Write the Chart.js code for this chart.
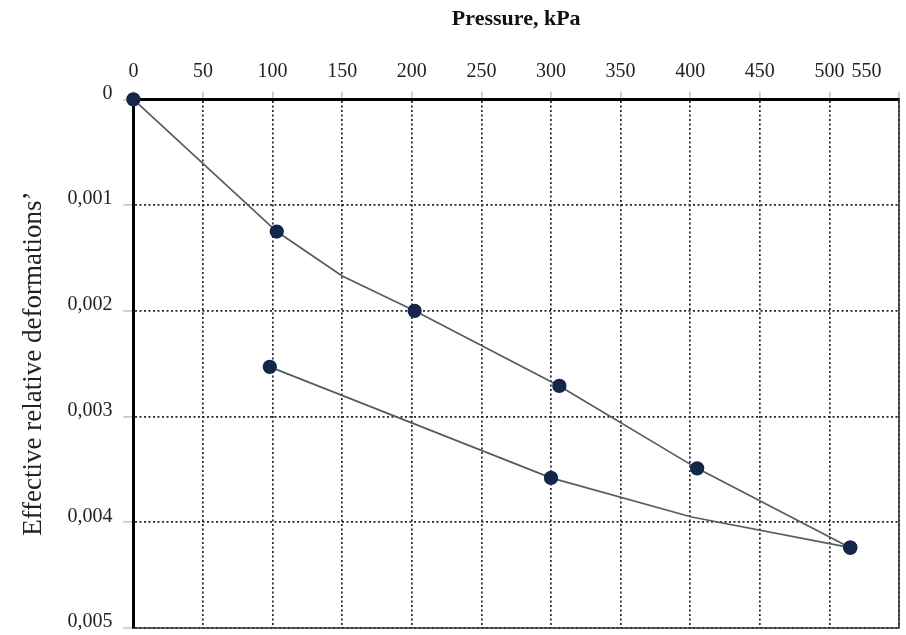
<!DOCTYPE html>
<html>
<head>
<meta charset="utf-8">
<script src="https://cdn.jsdelivr.net/npm/chart.js@4"></script>
<style>
  html, body { margin: 0; padding: 0; background: #ffffff; }
  #wrap { width: 906px; height: 635px; }
</style>
</head>
<body>
<div id="wrap"><canvas id="c" width="906" height="635"></canvas></div>
<script>
// ---- data ----
const xTitle = 'Pressure, kPa';
const yTitle = 'Effective relative deformations\u2019';

// loading branch (pressure kPa, effective relative deformation)
const loadPressure = [0, 103, 150, 202, 306, 405, 515];
const loadDeform   = [0, 0.00125, 0.00167, 0.0020, 0.00271, 0.00349, 0.00424];
const loadMeasured = [true, true, false, true, true, true, true];

// unloading branch
const unloadPressure = [98, 300, 401, 515];
const unloadDeform   = [0.00253, 0.00358, 0.00395, 0.00424];
const unloadMeasured = [true, true, false, true];

const xMin = 0, xMax = 550, xStep = 50;
const yMin = 0, yMax = 0.005, yStep = 0.001;

function toPoints(xs, ys) { return xs.map((x, i) => ({ x: x, y: ys[i] })); }

const serif = "'Liberation Serif', 'Times New Roman', serif";
const markerColor = '#14264a';
const lineColor = '#565b62';

const frame = {
  id: 'frame',
  beforeDatasetsDraw(chart) {
    const a = chart.chartArea, ctx = chart.ctx;
    ctx.save();
    ctx.strokeStyle = '#333';
    ctx.lineWidth = 1.6;
    ctx.beginPath();
    ctx.moveTo(a.right, a.top);
    ctx.lineTo(a.right, a.bottom);
    ctx.lineTo(a.left, a.bottom);
    ctx.stroke();
    ctx.restore();
  }
};

function noEdgePadding(scale) {
  scale.paddingTop = 0; scale.paddingBottom = 0;
  scale.paddingLeft = 0; scale.paddingRight = 0;
}

new Chart(document.getElementById('c'), {
  type: 'scatter',
  data: {
    datasets: [
      {
        label: 'loading',
        data: toPoints(loadPressure, loadDeform),
        showLine: true,
        clip: false,
        borderColor: lineColor,
        borderWidth: 1.7,
        backgroundColor: markerColor,
        pointBackgroundColor: markerColor,
        pointBorderColor: markerColor,
        pointRadius: c => loadMeasured[c.dataIndex] ? 6.3 : 0,
        pointHoverRadius: 0,
        order: 1
      },
      {
        label: 'unloading',
        data: toPoints(unloadPressure, unloadDeform),
        showLine: true,
        clip: false,
        borderColor: lineColor,
        borderWidth: 1.7,
        backgroundColor: markerColor,
        pointBackgroundColor: markerColor,
        pointBorderColor: markerColor,
        pointRadius: c => unloadMeasured[c.dataIndex] ? 6.3 : 0,
        pointHoverRadius: 0,
        order: 2
      }
    ]
  },
  options: {
    responsive: false,
    animation: false,
    events: [],
    layout: { autoPadding: false, padding: { top: 3, right: 7, bottom: 7, left: 4 } },
    plugins: {
      legend: { display: false },
      tooltip: { enabled: false }
    },
    scales: {
      x: {
        type: 'linear',
        position: 'top',
        min: xMin, max: xMax,
        afterFit: noEdgePadding,
        ticks: {
          stepSize: xStep,
          autoSkip: false,
          color: '#222',
          font: { family: serif, size: 20 },
          padding: 8,
          maxRotation: 0,
          callback: v => v === xMax ? String(v) + ' '.repeat(13) : String(v)
        },
        grid: {
          color: '#262626',
          lineWidth: 1.7,
          tickColor: '#c8c8c8',
          tickLength: 8
        },
        border: { display: true, color: '#000', width: 3, dash: [2, 2.5] },
        title: {
          display: true,
          text: xTitle,
          color: '#111',
          font: { family: serif, size: 22, weight: 'bold' },
          padding: { top: 3, bottom: 19 }
        }
      },
      y: {
        type: 'linear',
        position: 'left',
        reverse: true,
        min: yMin, max: yMax,
        afterFit: noEdgePadding,
        ticks: {
          stepSize: yStep,
          color: '#222',
          font: { family: serif, size: 20 },
          padding: 11,
          labelOffset: -6,
          callback: v => v === 0 ? '0' : v.toFixed(3).replace('.', ',')
        },
        grid: {
          color: '#262626',
          lineWidth: 1.7,
          tickColor: '#c8c8c8',
          tickLength: 10
        },
        border: { display: true, color: '#000', width: 3, dash: [2, 2.5] },
        title: {
          display: true,
          text: yTitle,
          color: '#222',
          font: { family: serif, size: 27 },
          padding: { top: 14, bottom: 6 }
        }
      }
    }
  },
  plugins: [frame]
});
</script>
</body>
</html>
